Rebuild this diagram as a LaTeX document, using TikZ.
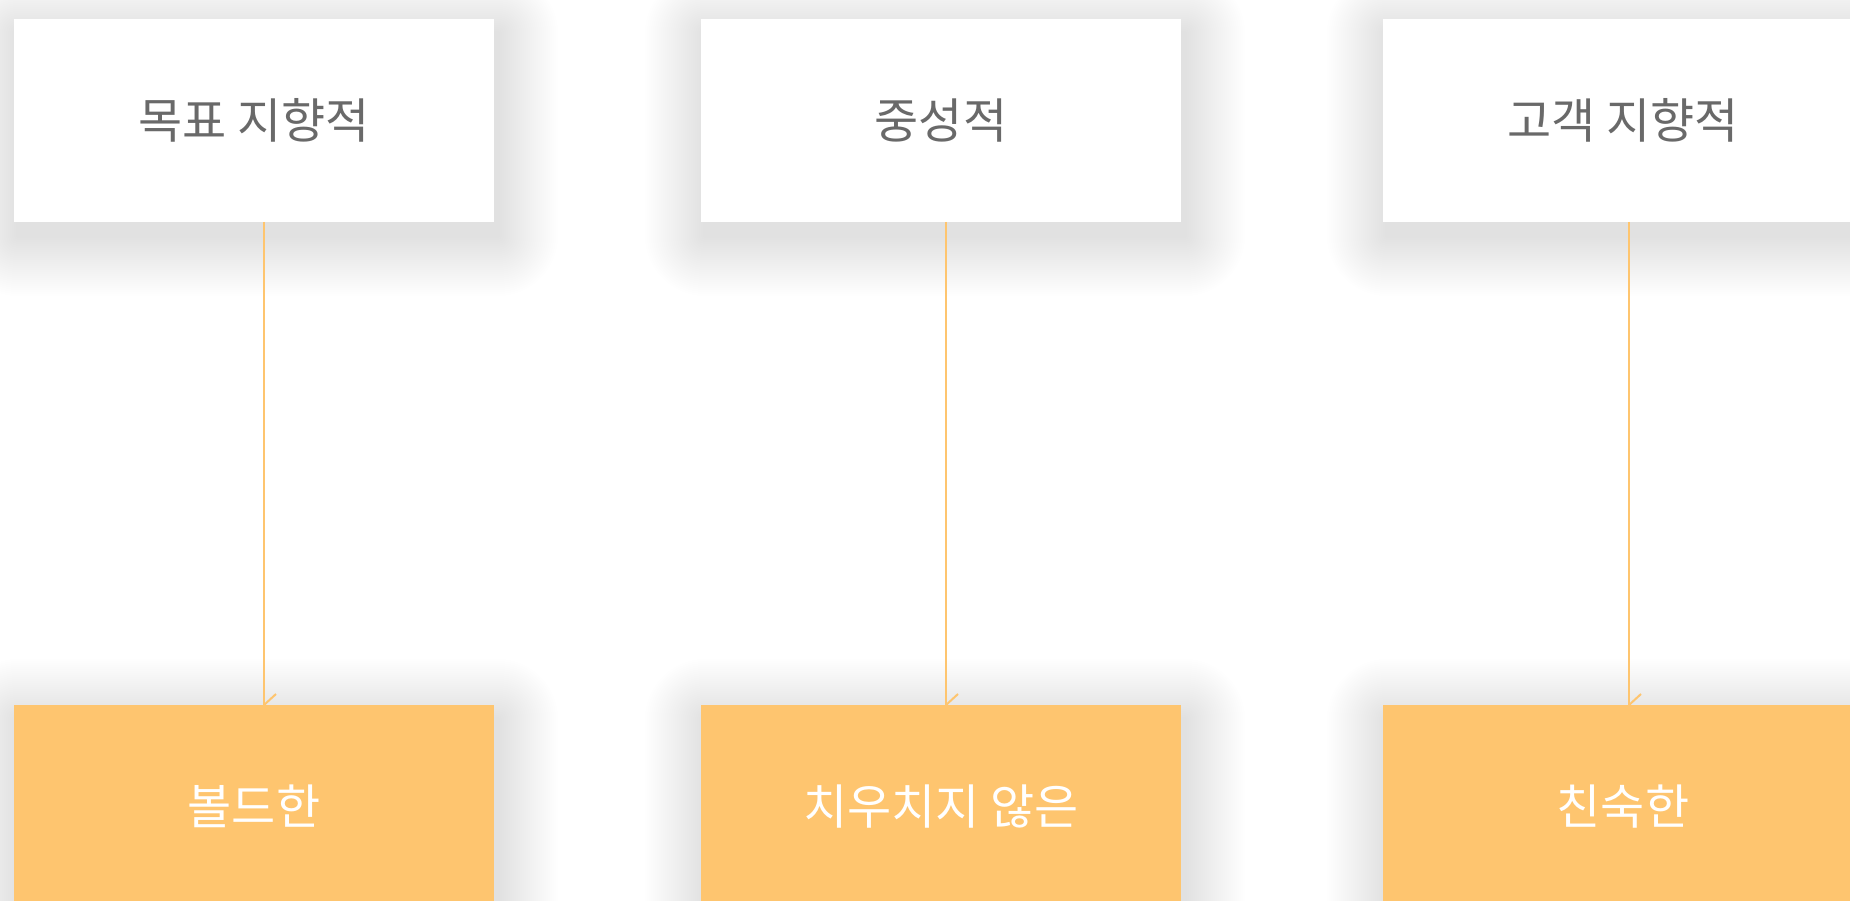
\documentclass[tikz,border=0pt]{standalone}
\usepackage{fontspec}
\newfontfamily\kr{Noto Sans CJK KR}
\usetikzlibrary{calc,backgrounds}
\definecolor{boxorange}{RGB}{254,197,111}
\definecolor{txtgray}{RGB}{105,105,105}
\tikzset{
  card/.style={minimum width=480pt, minimum height=203pt, inner sep=0pt, outer sep=0pt,
    font=\kr\fontsize{48pt}{54pt}\selectfont},
  topcard/.style={card, fill=white, text=txtgray},
  botcard/.style={card, fill=boxorange, text=white},
  conn/.style={draw=boxorange, line width=2pt},
  barb/.style={draw=boxorange, line width=2pt},
  shadowlayer/.style={fill=black, opacity=0.0032}
}
\begin{document}
\begin{tikzpicture}[x=1pt,y=-1pt]
\useasboundingbox (0,0) rectangle (1850,901);
\clip (0,0) rectangle (1850,901);
\node[topcard] (t1) at (254,120.5) {목표 지향적};
\node[topcard] (t2) at (941,120.5) {중성적};
\node[topcard] (t3) at (1623,120.5) {고객 지향적};
\node[botcard] (b1) at (254,806.5) {볼드한};
\node[botcard] (b2) at (941,806.5) {치우치지 않은};
\node[botcard] (b3) at (1623,806.5) {친숙한};
\begin{scope}[on background layer]
  \fill[white] (0,0) rectangle (1850,901);
  \foreach \n in {t1,t2,t3,b1,b2,b3}{
    \foreach \k in {1,...,30}{
      \pgfmathsetmacro{\e}{2.0*\k}
      \fill[shadowlayer, rounded corners=\e pt]
        ($(\n.north west)+(-\e+4,-\e+14)$) rectangle ($(\n.south east)+(\e+4,\e+14)$);
    }
  }
\end{scope}
\foreach \i/\dx in {1/10,2/5,3/6}{
  \coordinate (s\i) at ($(t\i.south)+(\dx,0)$);
  \coordinate (e\i) at ($(b\i.north)+(\dx,0)$);
  \draw[conn] (s\i) -- (e\i);
  \draw[barb] (e\i) -- ++(12,-11);
}
\end{tikzpicture}
\end{document}
